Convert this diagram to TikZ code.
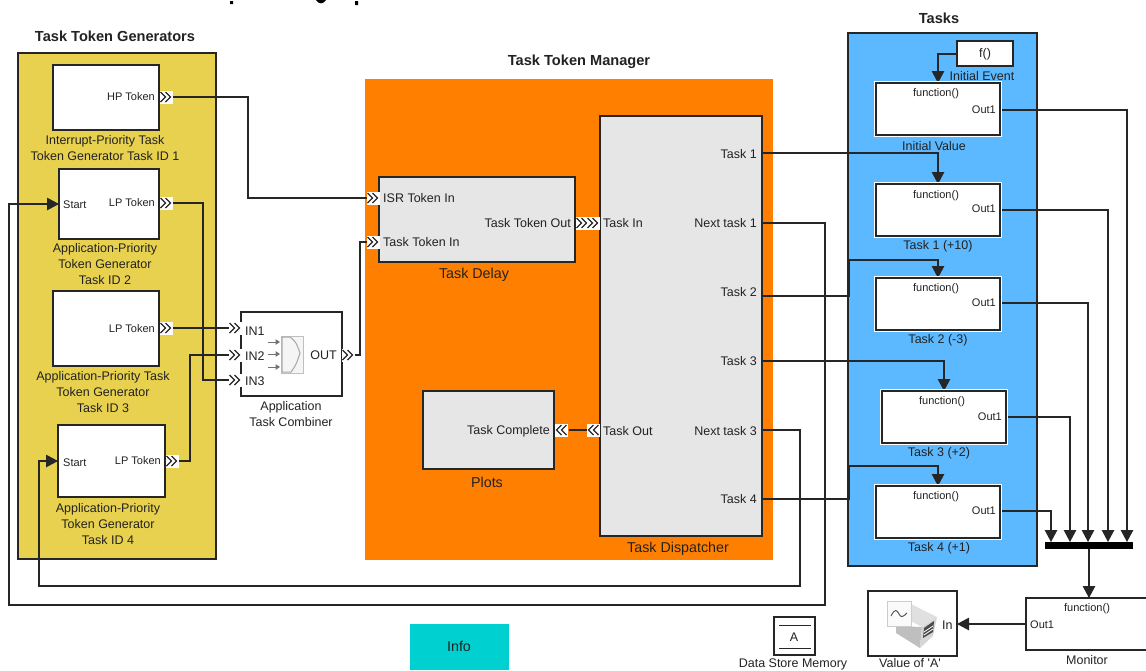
\documentclass[tikz,border=0pt]{standalone}
\usepackage{fontspec}
\setmainfont{Liberation Sans}[Ligatures=TeXOff]
\usetikzlibrary{arrows.meta}
\definecolor{genyellow}{HTML}{E8D14F}
\definecolor{mgrorange}{HTML}{FF8000}
\definecolor{taskblue}{HTML}{5CB9FF}
\definecolor{blockgray}{HTML}{E6E6E6}
\definecolor{infocyan}{HTML}{00D0D0}
\definecolor{inkgray}{HTML}{222222}
\tikzset{
 panel/.style={draw=black!85,line width=1.2pt,inner sep=0pt,outer sep=0pt},
 blk/.style={draw=black!85,line width=1.2pt,fill=white,inner sep=0pt,outer sep=0pt},
 halo/.style={preaction={draw=white,line width=3.4pt}},
 wire/.style={draw=black!85,line width=1.2pt},
 flow/.style={wire,-{Triangle[length=12pt,width=12.5pt]}},
 lab/.style={font=\fontsize{12.5}{15.8}\selectfont,text=inkgray,align=center,inner sep=0pt},
 biglab/.style={font=\fontsize{14.3}{16}\selectfont,text=inkgray,inner sep=0pt},
 tiny/.style={font=\fontsize{11}{13}\selectfont,text=inkgray,inner sep=0pt},
 heading/.style={font=\fontsize{14.6}{16}\selectfont\bfseries,text=inkgray,inner sep=0pt},
 chevrons/.pic={
  \fill[white] (-6.5,-6.5) rectangle (6.5,6.5);
  \foreach \k in {-5.5,-.5}{\draw[black!85,line width=1.2pt] (\k,-5)--(\k+5,0)--(\k,5);}
 }
}
\begin{document}
\begin{tikzpicture}[x=1pt,y=-1pt]
\useasboundingbox (0,0) rectangle (1146,670);
% the three coloured areas
\foreach \nm/\col/\dr/\xa/\ya/\xb/\yb in {gens/genyellow/black!85/18/53/216/559,mgr/mgrorange/none/365/79/773/560,tasks/taskblue/black!85/848/33/1037/566}{
 \node[panel,draw=\dr,fill=\col,minimum width={(\xb-\xa)*1pt},minimum height={(\yb-\ya)*1pt}] (\nm) at ({(\xa+\xb)/2},{(\ya+\yb)/2}) {};
}
% port ends
\foreach \nm/\x/\y in {hpout/172/97,lpa/172/203,lpb/172/328,lpc/178/461,ina/241/328,inb/241/355,inc/241/380,outc/354/355,isrin/368/198,tokin/368/242,startb/59/204,startc/58/461,
 tone/762/153,ntone/762/223,ttwo/762/296,tthree/762/361,ntthree/762/430,tfour/762/499,fout/957/54,dinit/938/83,done/938/184,dtwo/938/278,dthree/944/391,dfour/938/486,
 oinit/1000/110,oone/1000/210,otwo/1000/303,othree/1006/417,ofour/1000/511,binit/1127/542,bone/1108/542,btwo/1088/542,bthree/1070/542,bfour/1051/542,cplout/587/430,cplin/569/430}{
 \coordinate (\nm) at (\x,\y);
}
% wires
\draw[wire] (hpout) -- (248,97) |- (isrin);
\draw[wire] (lpa) -- (203,203) |- (inc);
\draw[wire] (lpb) -- (ina);
\draw[wire] (lpc) -- (190,461) |- (inb);
\draw[wire] (outc) -- (360,355) |- (tokin);
\draw[wire] (cplout) -- (cplin);
\draw[flow] (ntone) -- (825,223) -- (825,605) -- (9,605) |- (startb);
\draw[flow] (ntthree) -- (800,430) -- (800,586) -- (39,586) |- (startc);
\draw[flow] (tone) -| (done);
\draw[flow] (ttwo) -- (849,296) -- (849,260) -| (dtwo);
\draw[flow] (tthree) -| (dthree);
\draw[flow] (tfour) -- (849,499) -- (849,466) -| (dfour);
\draw[flow] (fout) -| (dinit);
\draw[flow] (oinit) -| (binit);
\draw[flow] (oone) -| (bone);
\draw[flow] (otwo) -| (btwo);
\draw[flow] (othree) -| (bthree);
\draw[flow] (ofour) -| (bfour);
% blocks
\foreach \nm/\col/\xa/\ya/\xb/\yb in {hpgen/white/53/65/159/130,gena/white/59/169/159/239,genb/white/53/291/159/366,genc/white/58/425/165/497,combiner/white/241/312/342/396,
 dispatcher/blockgray/600/116/762/536,delay/blockgray/379/177/575/262,plots/blockgray/423/391/554/469,
 event/white/957/41/1013/66,valueA/white/868/591/957/656,store/white/774/617/815/655,monitor/white/1026/598/1150/650}{
 \node[blk,fill=\col,minimum width={(\xb-\xa)*1pt},minimum height={(\yb-\ya)*1pt}] (\nm) at ({(\xa+\xb)/2},{(\ya+\yb)/2}) {};
}
\foreach \nm/\xa/\ya in {initval/876/83,taska/876/184,taskb/876/278,taskc/882/391,taskd/876/486}{
 \node[blk,halo,minimum width=124pt,minimum height=52pt] (\nm) at (\xa+62,\ya+26) {};
}
\node[blk,draw=none,fill=infocyan,minimum width=99pt,minimum height=46pt] (info) at (459.5,647) {};
\node[fill=black,inner sep=0pt,minimum width=88pt,minimum height=7pt] (bus) at (1089,545.5) {};
\draw[flow] (bus) -- (monitor.north -| bus);
\draw[flow] (monitor.west |- 0,624) -- (valueA.east |- 0,624);
\draw[line width=1pt,black!85] (779,625) -- (811,625) (779,648) -- (811,648);
% chevron ports
\foreach \x/\y in {166/97,166/203,166/328,172/461,235/328,235/355,235/380,348/355,373/198,373/242,582/223,593/223}{
 \pic at (\x,\y) {chevrons};
}
\foreach \x/\y in {561/430,593/430}{
 \pic[xscale=-1] at (\x,\y) {chevrons};
}
% combiner icon
\draw[black!25,fill=black!4,line width=1pt] (281,336) rectangle (303,373);
\draw[black!35,line width=1pt] (282,337) -- (290,337) .. controls (296,342) .. (300,353) .. controls (296,365) .. (291,372) -- (282,372) -- cycle;
\foreach \y in {342,354,367}{
 \draw[black!55,line width=1pt,-{Triangle[length=4.5pt,width=5.5pt]}] (268,\y) -- (280,\y);
}
% value icon
\fill[black!25] (896,626) -- (922,627) -- (920,648) -- (896,633) -- cycle;
\fill[black!12] (911,604) -- (937,617) -- (922,627) -- (911,621) -- cycle;
\fill[black!16] (922,627) -- (937,617) -- (933,636) -- (920,648) -- cycle;
\fill[black!70] (924,628) -- (934,621) -- (933,632) -- (923,638) -- cycle;
\draw[white,line width=.8pt] (924,632) -- (933,626) (924,635) -- (933,629);
\fill[black!2,draw=black!20] (887,601) rectangle (911,626);
\draw[black!65,line width=1pt] (891,616) .. controls (895,608) and (897,610) .. (899,614) .. controls (901,618) and (903,617) .. (907,613);
% labels
\foreach \nm/\x/\y/\txt in {ttgens/115/36/Task Token Generators,ttmgr/579/62/Task Token Manager,tttasks/939/18/Tasks}{
 \node[heading] (\nm) at (\x,\y) {\txt};
}
\foreach \nm/\x/\y/\txt in {lhp/105/148/{Interrupt-Priority Task\\Token Generator Task ID 1},lga/105/264/{Application-Priority\\Token Generator\\Task ID 2},
 lgb/103/392/{Application-Priority Task\\Token Generator\\Task ID 3},lgc/108/524/{Application-Priority\\Token Generator\\Task ID 4},lcomb/291/414/{Application\\Task Combiner},
 levent/982/76/Initial Event,linit/934/146/Initial Value,
 lta/938/246/Task 1 (+10),ltb/938/340/Task 2 (-3),ltc/939/453/Task 3 (+2),ltd/939/548/Task 4 (+1),lmon/1087/660/Monitor,lval/910/663/Value of 'A',lstore/793/664/Data Store Memory,
 lf/985/54/f(),lA/794/637/A}{
 \node[lab] (\nm) at (\x,\y) {\txt};
}
\foreach \nm/\x/\y/\txt in {ldelay/474/275/Task Delay,lplots/487/482/Plots,ldisp/678/549/Task Dispatcher,linfo/459/646/Info}{
 \node[biglab] (\nm) at (\x,\y) {\txt};
}
\foreach \nm/\x/\y/\an/\txt in {phin/155/97/east/HP Token,pla/155/203/east/LP Token,plb/155/329/east/LP Token,plc/161/461/east/LP Token,psa/63/205/west/Start,psc/63/463/west/Start,
 fa/936/93.5/center/function(),fb/936/195.5/center/function(),fc/936/288.5/center/function(),fd/942/401.5/center/function(),fe/936/496.5/center/function(),fm/1087/608.5/center/function(),
 oa/996/110/east/Out1,ob/996/209/east/Out1,oc/996/303/east/Out1,od/1002/417/east/Out1,oe/996/511/east/Out1,om/1030/625/west/Out1}{
 \node[tiny,anchor=\an] (\nm) at (\x,\y) {\txt};
}
\foreach \nm/\x/\y/\an/\txt in {qa/245/331/west/IN1,qb/245/356/west/IN2,qc/245/381/west/IN3,qo/337/355/east/OUT,qisr/383/198/west/ISR Token In,qtok/383/242/west/Task Token In,
 qtout/571/223/east/Task Token Out,qtin/603/223/west/Task In,qcpl/550/431/east/Task Complete,qtou/603/431/west/Task Out,
 ra/757/154/east/Task 1,rb/757/223/east/Next task 1,rc/757/292/east/Task 2,rd/757/361/east/Task 3,re/757/431/east/Next task 3,rf/757/499/east/Task 4,qin/942/625/west/In}{
 \node[lab,anchor=\an] (\nm) at (\x,\y) {\txt};
}
% cut-off line at the very top
\fill[black] (230,1) rectangle (233,4) (316,0) .. controls (319,4.5) and (323,4.5) .. (326,0) (355,1) rectangle (358,5);
\end{tikzpicture}
\end{document}
